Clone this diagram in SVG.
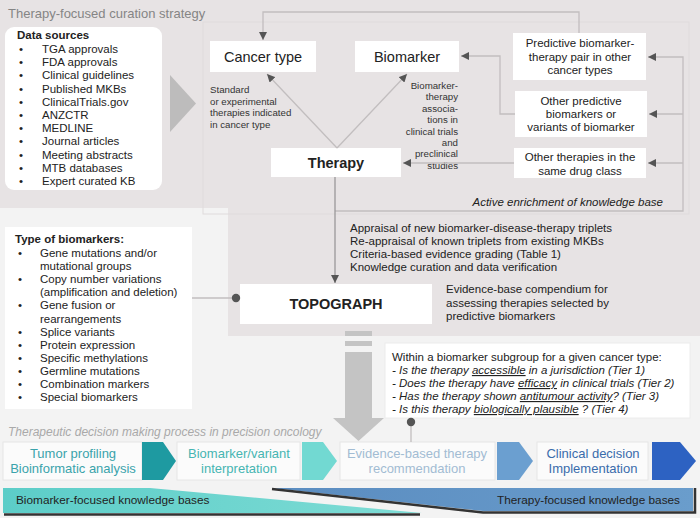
<svg xmlns="http://www.w3.org/2000/svg" width="700" height="518" viewBox="0 0 700 518">
<style>
text{font-family:"Liberation Sans",Arial,sans-serif;fill:#222}
.t11{font-size:11.5px}
.lbl{font-size:9.7px;fill:#333}
.node{fill:#fff}
.nt{font-size:14.5px;text-anchor:middle;fill:#222}
.b{font-weight:bold}
.c{text-anchor:middle}
.r{text-anchor:end}
.i{font-style:italic}
.conn{fill:none;stroke:#c2bebf;stroke-width:1.3}
.dk{fill:none;stroke:#9a9899;stroke-width:1.3}
.pb{fill:#fbfbfb;stroke:#e6e6e6;stroke-width:1}
.pt{font-size:13px;text-anchor:middle}
</style>
<defs>
<marker id="ah" viewBox="0 0 10 10" refX="10" refY="5" markerWidth="8" markerHeight="8" markerUnits="userSpaceOnUse" orient="auto">
<path d="M0,0 L10,5 L0,10 z" fill="#555"/>
</marker>
<linearGradient id="gTeal" x1="0" x2="1" y1="0" y2="0">
<stop offset="0" stop-color="#5ccdc8"/><stop offset="1" stop-color="#7edcd5"/>
</linearGradient>
<linearGradient id="gBlue" x1="0" x2="1" y1="0" y2="0">
<stop offset="0" stop-color="#5a8cc0"/><stop offset="1" stop-color="#6a9dcc"/>
</linearGradient>
</defs>

<!-- backgrounds -->
<rect x="0" y="0" width="700" height="518" fill="#f3f3f3"/>
<path d="M0,0 H700 V336 H228 V208 H0 Z" fill="#e7e3e4"/>
<rect x="203" y="22" width="486" height="192" fill="none" stroke="#dfdbdc" stroke-width="1"/>

<text x="8" y="18" style="font-size:13px;fill:#858585">Therapy-focused curation strategy</text>

<!-- Data sources -->
<g id="data-sources">
<rect x="5" y="27" width="157" height="163" rx="9" fill="#fff"/>
<text x="17" y="39" class="t11 b">Data sources</text>
<g class="t11">
<text x="19" y="53">•</text><text x="42" y="53">TGA approvals</text>
<text x="19" y="66.2">•</text><text x="42" y="66.2">FDA approvals</text>
<text x="19" y="79.4">•</text><text x="42" y="79.4">Clinical guidelines</text>
<text x="19" y="92.6">•</text><text x="42" y="92.6">Published MKBs</text>
<text x="19" y="105.8">•</text><text x="42" y="105.8">ClinicalTrials.gov</text>
<text x="19" y="119">•</text><text x="42" y="119">ANZCTR</text>
<text x="19" y="132.2">•</text><text x="42" y="132.2">MEDLINE</text>
<text x="19" y="145.4">•</text><text x="42" y="145.4">Journal articles</text>
<text x="19" y="158.6">•</text><text x="42" y="158.6">Meeting abstracts</text>
<text x="19" y="171.8">•</text><text x="42" y="171.8">MTB databases</text>
<text x="19" y="185">•</text><text x="42" y="185">Expert curated KB</text>
</g>
</g>
<polygon points="170,75 196,103.5 170,132" fill="#bdbcbc"/>

<!-- nodes -->
<g id="cancer-type">
<rect class="node" x="210" y="41" width="106" height="31"/>
<text x="263" y="62" class="nt">Cancer type</text>
</g>
<g id="biomarker">
<rect class="node" x="355" y="41" width="104" height="31"/>
<text x="407" y="62" class="nt">Biomarker</text>
</g>
<g id="therapy">
<rect class="node" x="271" y="148" width="130" height="29"/>
<text x="336" y="168" class="nt b">Therapy</text>
</g>
<g id="label-std">
<text x="210" y="93" class="lbl">Standard</text>
<text x="210" y="104.5" class="lbl">or experimental</text>
<text x="210" y="116" class="lbl">therapies indicated</text>
<text x="210" y="127.5" class="lbl">in cancer type</text>
</g>
<g id="label-bt">
<text x="458" y="89" class="lbl r">Biomarker-</text>
<text x="458" y="100.4" class="lbl r">therapy</text>
<text x="458" y="111.8" class="lbl r">associa-</text>
<text x="458" y="123.2" class="lbl r">tions in</text>
<text x="458" y="134.6" class="lbl r">clinical trials</text>
<text x="458" y="146" class="lbl r">and</text>
<text x="458" y="157.4" class="lbl r">preclinical</text>
<text x="458" y="168.8" class="lbl r">studies</text>
</g>

<g id="predictive-pair">
<rect class="node" x="513" y="33" width="133" height="47"/>
<text x="580" y="47" class="t11 c">Predictive biomarker-</text>
<text x="580" y="60.5" class="t11 c">therapy pair in other</text>
<text x="580" y="74" class="t11 c">cancer types</text>
</g>
<g id="other-biomarkers">
<rect class="node" x="515" y="91" width="132" height="46"/>
<text x="581" y="105" class="t11 c">Other predictive</text>
<text x="581" y="118" class="t11 c">biomarkers or</text>
<text x="581" y="131" class="t11 c">variants of biomarker</text>
</g>
<g id="other-therapies">
<rect class="node" x="514" y="148" width="132" height="30"/>
<text x="580" y="161" class="t11 c">Other therapies in the</text>
<text x="580" y="174.5" class="t11 c">same drug class</text>
</g>
<text x="663" y="206" class="t11 r i">Active enrichment of knowledge base</text>

<g id="appraisal" class="t11">
<text x="350" y="232">Appraisal of new biomarker-disease-therapy triplets</text>
<text x="350" y="245">Re-appraisal of known triplets from existing MKBs</text>
<text x="350" y="258">Criteria-based evidence grading (Table 1)</text>
<text x="350" y="271">Knowledge curation and data verification</text>
</g>

<g id="topograph">
<rect class="node" x="240" y="284" width="192" height="40"/>
<text x="336" y="309" class="nt b">TOPOGRAPH</text>
</g>
<g id="compendium" class="t11">
<text x="446" y="293">Evidence-base compendium for</text>
<text x="446" y="306.5">assessing therapies selected by</text>
<text x="446" y="320">predictive biomarkers</text>
</g>

<g id="biomarker-types">
<rect x="5" y="227" width="187" height="182" fill="#fff"/>
<text x="15" y="243" class="t11 b">Type of biomarkers:</text>
<g class="t11">
<text x="18" y="257">•</text><text x="40" y="257">Gene mutations and/or</text>
<text x="40" y="270.1">mutational groups</text>
<text x="18" y="283.2">•</text><text x="40" y="283.2">Copy number variations</text>
<text x="40" y="296.3">(amplification and deletion)</text>
<text x="18" y="309.4">•</text><text x="40" y="309.4">Gene fusion or</text>
<text x="40" y="322.5">rearrangements</text>
<text x="18" y="335.6">•</text><text x="40" y="335.6">Splice variants</text>
<text x="18" y="348.7">•</text><text x="40" y="348.7">Protein expression</text>
<text x="18" y="361.8">•</text><text x="40" y="361.8">Specific methylations</text>
<text x="18" y="374.9">•</text><text x="40" y="374.9">Germline mutations</text>
<text x="18" y="388">•</text><text x="40" y="388">Combination markers</text>
<text x="18" y="401.1">•</text><text x="40" y="401.1">Special biomarkers</text>
</g>
</g>

<!-- big grey arrow -->
<g id="big-arrow" fill="#c4c4c4">
<rect x="345" y="331" width="27" height="5"/>
<rect x="345" y="341" width="27" height="5"/>
<rect x="345" y="352" width="27" height="67"/>
<polygon points="333,418 384,418 358.5,441"/>
</g>

<g id="tiers">
<rect x="385" y="343" width="305" height="75" fill="#fff" stroke="#ececec"/>
<g class="t11">
<text x="392" y="361">Within a biomarker subgroup for a given cancer type:</text>
<text x="392" y="374" class="i">- Is the therapy <tspan text-decoration="underline">accessible</tspan> in a jurisdiction (Tier 1)</text>
<text x="392" y="387" class="i">- Does the therapy have <tspan text-decoration="underline">efficacy</tspan> in clinical trials (Tier 2)</text>
<text x="392" y="400" class="i">- Has the therapy shown <tspan text-decoration="underline">antitumour activity</tspan>? (Tier 3)</text>
<text x="392" y="413" class="i">- Is this therapy <tspan text-decoration="underline">biologically plausible</tspan> ? (Tier 4)</text>
</g>
</g>

<text x="8" y="436" class="i" style="font-size:12px;fill:#a9a9a9">Therapeutic decision making process in precision oncology</text>

<!-- process -->
<g id="step1">
<rect class="pb" x="3" y="442" width="139" height="38"/>
<text x="73" y="458" class="pt" style="fill:#3aa3ab">Tumor profiling</text>
<text x="73" y="473" class="pt" style="fill:#3aa3ab">Bioinformatic analysis</text>
<polygon points="142,442 163,442 176,461 163,480 142,480" fill="#1e9aa1"/>
</g>
<g id="step2">
<rect class="pb" x="177" y="442" width="123" height="38"/>
<text x="239" y="458" class="pt" style="fill:#46b5b2">Biomarker/variant</text>
<text x="239" y="473" class="pt" style="fill:#46b5b2">interpretation</text>
<polygon points="302,442 323,442 337,461 323,480 302,480" fill="#72d9d2"/>
</g>
<g id="step3">
<rect class="pb" x="340" y="442" width="155" height="38"/>
<text x="417" y="458" class="pt" style="fill:#a2bcd3">Evidence-based therapy</text>
<text x="417" y="473" class="pt" style="fill:#a2bcd3">recommendation</text>
<polygon points="497,442 519,442 533,461 519,480 497,480" fill="#6b9fd0"/>
</g>
<g id="step4">
<rect class="pb" x="537" y="442" width="111" height="38"/>
<text x="593" y="458" class="pt" style="fill:#3a6cab">Clinical decision</text>
<text x="593" y="473" class="pt" style="fill:#3a6cab">Implementation</text>
<polygon points="652,442 680,442 696,461 680,480 652,480" fill="#2d62c2"/>
</g>

<!-- knowledge base bands -->
<g id="biomarker-kb">
<polygon points="3,488 150,488 422,513 3,513" fill="url(#gTeal)"/>
<line x1="4" y1="514.5" x2="420" y2="514.5" stroke="#333" stroke-width="2.5"/>
<text x="16" y="504" style="font-size:11.8px;fill:#222">Biomarker-focused knowledge bases</text>
</g>
<g id="therapy-kb">
<polygon points="272,488 693,488 693,511 483,511" fill="url(#gBlue)"/>
<polyline points="272,489 483,512.5 695,512.5 695,488" fill="none" stroke="#333" stroke-width="2.5"/>
<text x="680" y="504" class="r" style="font-size:11.8px;fill:#222">Therapy-focused knowledge bases</text>
</g>

<!-- connectors -->
<g id="connectors">
<line class="conn" x1="337" y1="148" x2="267" y2="74" marker-end="url(#ah)"/>
<line class="conn" x1="337" y1="148" x2="407" y2="74" marker-end="url(#ah)"/>
<line class="conn" x1="514" y1="163" x2="403" y2="163" marker-end="url(#ah)"/>
<polyline class="conn" points="515,114 500,114 500,56 461,56" marker-end="url(#ah)"/>
<polyline class="conn" points="579,33 579,12 263,12 263,40" marker-end="url(#ah)"/>
<polyline class="conn" points="335,211 683,211 683,57 648,57" marker-end="url(#ah)"/>
<line class="conn" x1="683" y1="114" x2="649" y2="114" marker-end="url(#ah)"/>
<line class="conn" x1="683" y1="163" x2="648" y2="163" marker-end="url(#ah)"/>
<line class="dk" x1="335" y1="177" x2="335" y2="283" marker-end="url(#ah)"/>
<line class="conn" x1="192" y1="298" x2="236" y2="298"/>
<circle cx="236" cy="298" r="4.2" fill="#555"/>
<line class="conn" x1="411" y1="422" x2="411" y2="442"/>
<circle cx="411" cy="422" r="4.2" fill="#555"/>
</g>
</svg>
